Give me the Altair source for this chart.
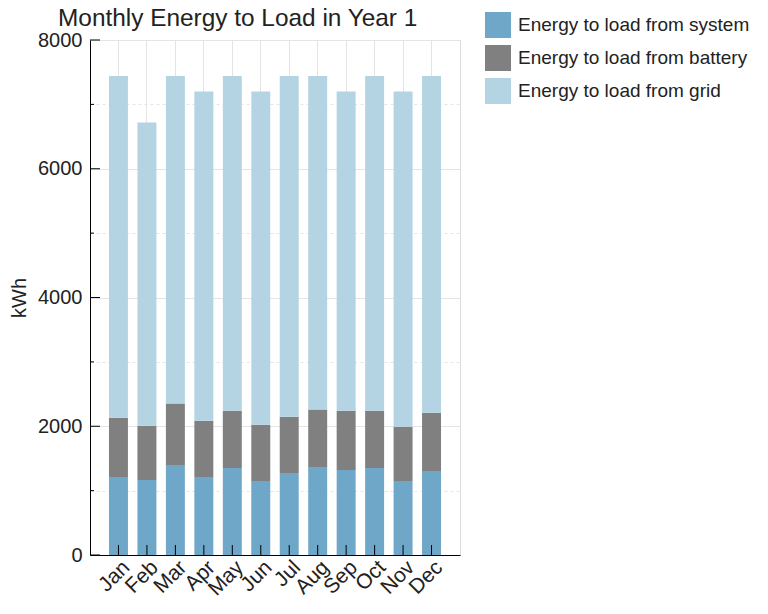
import altair as alt
import pandas as pd

months = ["Jan", "Feb", "Mar", "Apr", "May", "Jun", "Jul", "Aug", "Sep", "Oct", "Nov", "Dec"]
system = [1211, 1164, 1398, 1211, 1351, 1149, 1273, 1367, 1320, 1351, 1149, 1304]
battery = [920, 842, 956, 873, 889, 873, 874, 894, 920, 889, 842, 905]
totals = [7440, 6720, 7440, 7200, 7440, 7200, 7440, 7440, 7200, 7440, 7200, 7440]
series = ["Energy to load from system", "Energy to load from battery", "Energy to load from grid"]
colors = ["#6fa7c8", "#808080", "#b5d4e3"]
major_ticks = [0, 2000, 4000, 6000, 8000]
minor_ticks = [1000, 3000, 5000, 7000]
title_text = "Monthly Energy to Load in Year 1"

rows = []
for i, m in enumerate(months):
    grid = totals[i] - system[i] - battery[i]
    for k, (s, v) in enumerate(zip(series, [system[i], battery[i], grid])):
        rows.append({"month": m, "series": s, "kwh": v, "order": k})
df = pd.DataFrame(rows)

W, H = 370, 515
FONT = "Liberation Sans"

xscale = alt.Scale(domain=months, paddingInner=1/3, paddingOuter=2/3)
yscale = alt.Scale(domain=[0, 8000], nice=False, zero=True)

bars = alt.Chart(df).mark_bar().encode(
    x=alt.X("month:N", sort=months, scale=xscale, title=None,
            axis=alt.Axis(labelAngle=315, labelAlign="right", labelBaseline="middle",
                          labelPadding=9, labelOffset=8, labelFontSize=21, labelColor="#222",
                          tickSize=0, grid=True, gridColor="#e4e4e4", bandPosition=0.5,
                          domainColor="black", labelFont=FONT)),
    y=alt.Y("kwh:Q", stack="zero", scale=yscale, title="kWh",
            axis=alt.Axis(values=list(range(0, 8001, 1000)), format="d",
                          labelExpr="datum.value % 2000 == 0 ? datum.label : ''",
                          labelFontSize=20, labelColor="#222", labelPadding=8, tickSize=0,
                          grid=True, gridColor="#e4e4e4",
                          gridDash={"condition": {"test": "datum.value % 2000 != 0", "value": [3, 3]}, "value": []},
                          domainColor="black", titleFontSize=20, titleFontWeight="normal",
                          titleColor="#222", titleX=-65, titleY=H / 2, titleBaseline="alphabetic",
                          labelFont=FONT, titleFont=FONT)),
    color=alt.Color("series:N", sort=series, scale=alt.Scale(domain=series, range=colors),
                    legend=alt.Legend(title=None, orient="none", legendX=395, legendY=-28,
                                      symbolType="square", symbolSize=676, symbolStrokeWidth=0,
                                      symbolOpacity=1, labelFontSize=19, labelColor="#222",
                                      labelFont=FONT, rowPadding=7, labelOffset=7, labelLimit=400)),
    order=alt.Order("order:Q"),
)

major_df = pd.DataFrame({"v": major_ticks})
minor_df = pd.DataFrame({"v": minor_ticks})
month_df = pd.DataFrame({"month": months})

ytick_major = alt.Chart(major_df).mark_rule(color="black", strokeWidth=1).encode(
    y=alt.Y("v:Q", scale=yscale), x=alt.value(0), x2=alt.value(10))
ytick_minor = alt.Chart(minor_df).mark_rule(color="black", strokeWidth=1).encode(
    y=alt.Y("v:Q", scale=yscale), x=alt.value(0), x2=alt.value(4))
xtick = alt.Chart(month_df).mark_rule(color="black", strokeWidth=1).encode(
    x=alt.X("month:N", sort=months, scale=xscale), y=alt.value(H), y2=alt.value(H - 10))

title_mark = alt.Chart(pd.DataFrame({"t": [title_text]})).mark_text(
    align="left", baseline="alphabetic", fontSize=24.4, font=FONT, color="#222"
).encode(text="t:N", x=alt.value(-32), y=alt.value(-14))

chart = alt.layer(bars, ytick_major, ytick_minor, xtick, title_mark).properties(
    width=W, height=H,
    autosize=alt.AutoSizeParams(type="none"),
    padding={"left": 82, "top": 32, "right": 300, "bottom": 51},
).configure_view(stroke="black", strokeWidth=1).configure(font=FONT)

chart.save("out.html", embed_options={"renderer": "svg", "actions": False})
